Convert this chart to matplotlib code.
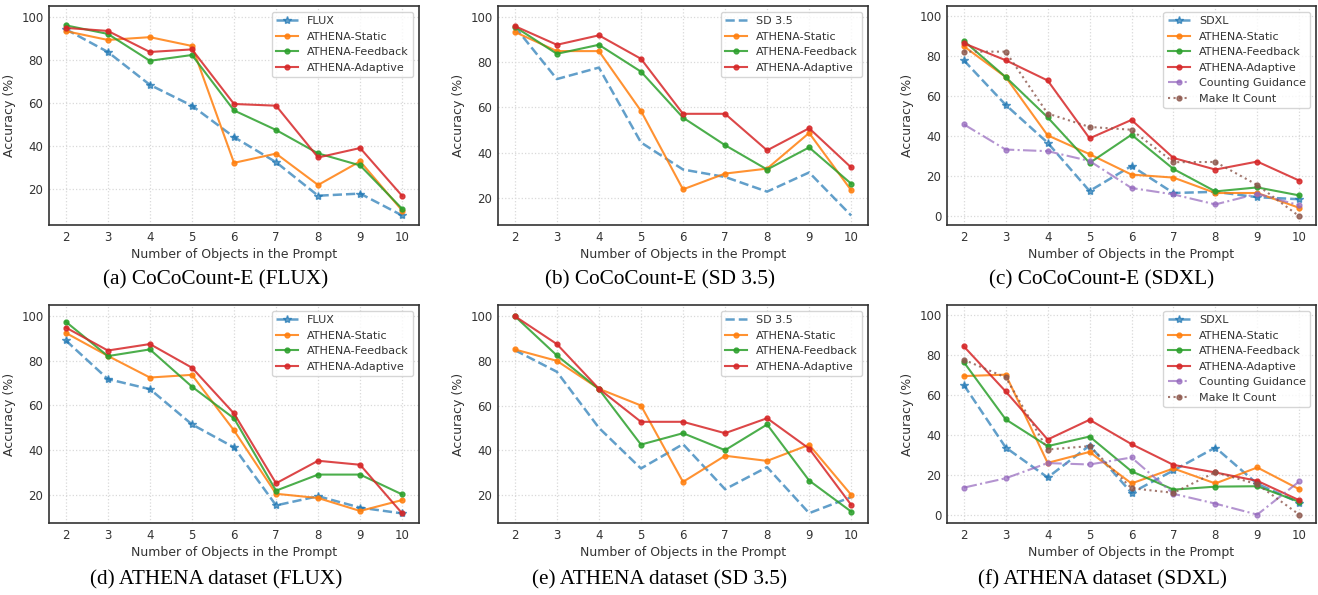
import matplotlib
matplotlib.use("Agg")
import matplotlib.pyplot as plt

x = [2, 3, 4, 5, 6, 7, 8, 9, 10]

# (a) CoCoCount-E (FLUX)
a_base = [94.2, 83.6, 68.3, 58.6, 44.0, 32.3, 16.7, 17.7, 7.5]
a_static = [93.3, 89.2, 90.5, 86.4, 32.0, 36.3, 21.7, 32.7, 9.8]
a_feedback = [96.0, 92.0, 79.5, 82.2, 56.4, 47.3, 36.4, 30.8, 10.6]
a_adaptive = [94.8, 93.4, 83.6, 84.8, 59.4, 58.6, 34.5, 38.9, 16.6]

# (b) CoCoCount-E (SD 3.5)
b_base = [95.8, 72.6, 77.7, 44.5, 32.5, 29.2, 22.7, 31.2, 12.1]
b_static = [93.5, 85.0, 85.0, 58.5, 23.7, 30.7, 32.9, 48.7, 23.3]
b_feedback = [95.8, 83.8, 87.8, 75.9, 55.5, 43.3, 32.5, 42.3, 26.2]
b_adaptive = [96.1, 87.8, 92.0, 81.6, 57.2, 57.2, 41.0, 50.8, 33.4]

# (c) CoCoCount-E (SDXL)
c_base = [77.9, 55.6, 36.7, 12.6, 25.1, 11.6, 12.2, 9.5, 8.5]
c_static = [84.9, 69.5, 40.4, 31.0, 20.8, 19.3, 11.6, 11.6, 4.2]
c_feedback = [87.6, 69.5, 49.4, 26.6, 40.7, 23.6, 12.4, 14.4, 10.4]
c_adaptive = [86.4, 77.9, 67.8, 38.9, 48.1, 29.1, 23.3, 27.3, 17.8]
c_counting = [45.9, 33.3, 32.5, 27.6, 14.1, 10.9, 5.9, 11.2, 5.5]
c_mic = [82.2, 82.2, 51.3, 44.6, 43.2, 27.0, 27.1, 15.6, 0.0]

# (d) ATHENA dataset (FLUX)
d_base = [89.1, 71.8, 67.3, 51.5, 41.2, 15.2, 19.3, 14.2, 11.6]
d_static = [92.5, 82.2, 72.5, 73.7, 48.8, 20.4, 18.5, 12.7, 17.6]
d_feedback = [97.5, 82.1, 85.1, 68.4, 54.2, 21.8, 29.0, 29.0, 20.1]
d_adaptive = [94.9, 84.6, 87.5, 76.9, 56.4, 25.1, 35.2, 33.4, 11.6]

# (e) ATHENA dataset (SD 3.5)
e_base = [84.8, 75.1, 50.0, 31.8, 42.7, 22.5, 32.4, 11.8, 19.0]
e_static = [85.1, 80.0, 67.5, 60.0, 25.8, 37.5, 35.2, 42.4, 20.0]
e_feedback = [100.0, 82.4, 67.3, 42.5, 47.6, 40.0, 51.5, 26.4, 12.5]
e_adaptive = [100.0, 87.5, 67.5, 52.7, 52.7, 47.6, 54.3, 40.7, 15.5]

# (f) ATHENA dataset (SDXL)
f_base = [65.0, 33.6, 18.6, 34.6, 10.9, 22.1, 33.6, 15.4, 6.0]
f_static = [69.4, 70.1, 25.9, 31.4, 15.6, 23.1, 15.6, 23.6, 12.7]
f_feedback = [76.4, 47.7, 34.3, 39.1, 21.7, 12.5, 14.0, 14.2, 6.4]
f_adaptive = [84.3, 61.7, 37.6, 47.5, 35.3, 24.9, 21.1, 16.9, 7.2]
f_counting = [13.5, 18.2, 25.8, 25.1, 28.6, 10.4, 5.5, 0.0, 16.6]
f_mic = [77.6, 68.7, 32.6, 34.3, 13.2, 10.9, 21.2, 15.2, 0.0]

captions = ["(a) CoCoCount-E (FLUX)", "(b) CoCoCount-E (SD 3.5)", "(c) CoCoCount-E (SDXL)",
            "(d) ATHENA dataset (FLUX)", "(e) ATHENA dataset (SD 3.5)", "(f) ATHENA dataset (SDXL)"]

panels = [
    ("FLUX", a_base, a_static, a_feedback, a_adaptive, None, None),
    ("SD 3.5", b_base, b_static, b_feedback, b_adaptive, None, None),
    ("SDXL", c_base, c_static, c_feedback, c_adaptive, c_counting, c_mic),
    ("FLUX", d_base, d_static, d_feedback, d_adaptive, None, None),
    ("SD 3.5", e_base, e_static, e_feedback, e_adaptive, None, None),
    ("SDXL", f_base, f_static, f_feedback, f_adaptive, f_counting, f_mic),
]

W, H = 1318, 595
fig = plt.figure(figsize=(W / 100, H / 100), dpi=100)

cols = [(49, 419), (498, 868), (947, 1316)]
rows = [(6, 225), (305, 523)]
cap_x = [216, 660, 1102]
cap_y = [280, 580]

blue, orange, green, red, purple, brown = "#1f77b4", "#ff7f0e", "#2ca02c", "#d62728", "#9467bd", "#8c564b"
tick_color = "#333333"

for i, (bname, base, st, fb, ad, cg, mic) in enumerate(panels):
    r, c = divmod(i, 3)
    x0, x1 = cols[c]
    y0, y1 = rows[r]
    ax = fig.add_axes([x0 / W, 1 - y1 / H, (x1 - x0) / W, (y1 - y0) / H])
    ax.grid(True, color="#d9d9d9", linestyle=":", linewidth=0.9)
    ax.set_axisbelow(True)
    if bname == "SD 3.5":
        ax.plot(x, base, linestyle="--", color=blue, linewidth=1.8, alpha=0.7, label=bname)
    else:
        ax.plot(x, base, linestyle="--", marker="*", markersize=6, color=blue, linewidth=1.8,
                alpha=0.7, label=bname)
    ax.plot(x, st, "-o", color=orange, markersize=3.5, linewidth=1.5, alpha=0.85, label="ATHENA-Static")
    ax.plot(x, fb, "-o", color=green, markersize=3.5, linewidth=1.5, alpha=0.85, label="ATHENA-Feedback")
    ax.plot(x, ad, "-o", color=red, markersize=3.5, linewidth=1.5, alpha=0.85, label="ATHENA-Adaptive")
    if cg is not None:
        ax.plot(x, cg, "-.o", color=purple, markersize=3.5, linewidth=1.5, alpha=0.7, label="Counting Guidance")
        ax.plot(x, mic, ":o", color=brown, markersize=3.5, linewidth=1.5, alpha=0.8, label="Make It Count")
    ax.set_xticks(x)
    ax.set_ylim(top=105)
    ax.set_yticks([t for t in [0, 20, 40, 60, 80, 100] if t >= ax.get_ylim()[0]])
    ax.tick_params(axis="both", labelsize=8.5, colors=tick_color, length=0, pad=4)
    ax.set_xlabel("Number of Objects in the Prompt", fontsize=9, color=tick_color, labelpad=3)
    ax.set_ylabel("Accuracy (%)", fontsize=9, color=tick_color, labelpad=4)
    for s in ax.spines.values():
        s.set_color("#333333")
        s.set_linewidth(1.2)
    leg = ax.legend(loc="upper right", fontsize=8, frameon=True, fancybox=True,
                    labelcolor=tick_color, handlelength=2.0)
    leg.get_frame().set_edgecolor("#cccccc")
    fig.text(cap_x[c] / W, 1 - cap_y[r] / H, captions[i], ha="center", va="center",
             fontsize=15.3, family="Liberation Serif", color="black")

fig.savefig("out.png", dpi=100, facecolor="white")
